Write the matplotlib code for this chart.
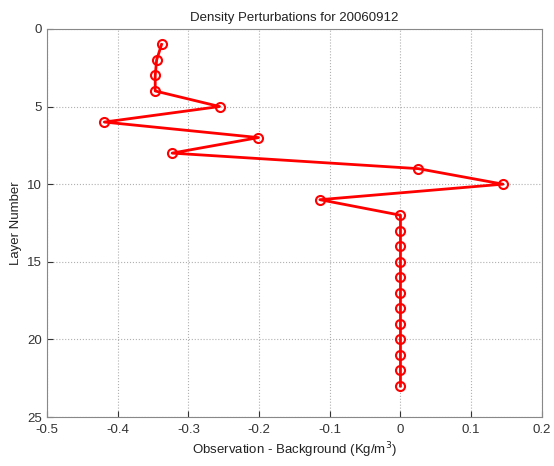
import matplotlib
matplotlib.use("Agg")
import matplotlib.pyplot as plt

plt.rcParams['font.family'] = ['Liberation Sans', 'DejaVu Sans']

# layer number and density perturbation (obs - background)
layers = list(range(1, 24))
perturb = [-0.338, -0.345, -0.347, -0.347, -0.256, -0.419, -0.201, -0.323,
           0.025, 0.145, -0.114,
           0, 0, 0, 0, 0, 0, 0, 0, 0, 0, 0, 0]

xticks = [-0.5, -0.4, -0.3, -0.2, -0.1, 0, 0.1, 0.2]
xticklabels = ['-0.5', '-0.4', '-0.3', '-0.2', '-0.1', '0', '0.1', '0.2']
yticks = [0, 5, 10, 15, 20, 25]

fig = plt.figure(figsize=(5.54, 4.66), dpi=100)
ax = fig.add_axes([0.085, 0.105, 0.893, 0.833])

ax.plot(perturb, layers, color='red', linewidth=2, marker='o', markersize=6.5,
        markerfacecolor='none', markeredgewidth=1.5)

ax.set_xlim(-0.5, 0.2)
ax.set_ylim(25, 0)
ax.set_xticks(xticks)
ax.set_xticklabels(xticklabels)
ax.set_yticks(yticks)
ax.grid(True, linestyle=':', color='#b0b0b0', linewidth=0.8)
ax.tick_params(direction='in', labelsize=9.5, colors='#333333', length=4)
ax.tick_params(axis='x', pad=5)
for s in ax.spines.values():
    s.set_color('#888888')

ax.set_title('Density Perturbations for 20060912', fontsize=9.5, color='#222222')
ax.set_xlabel('Observation - Background (Kg/m$^3$)', fontsize=9.5, color='#222222',
              labelpad=3)
ax.set_ylabel('Layer Number', fontsize=9.5, color='#222222')

fig.savefig('out.png', dpi=100)
